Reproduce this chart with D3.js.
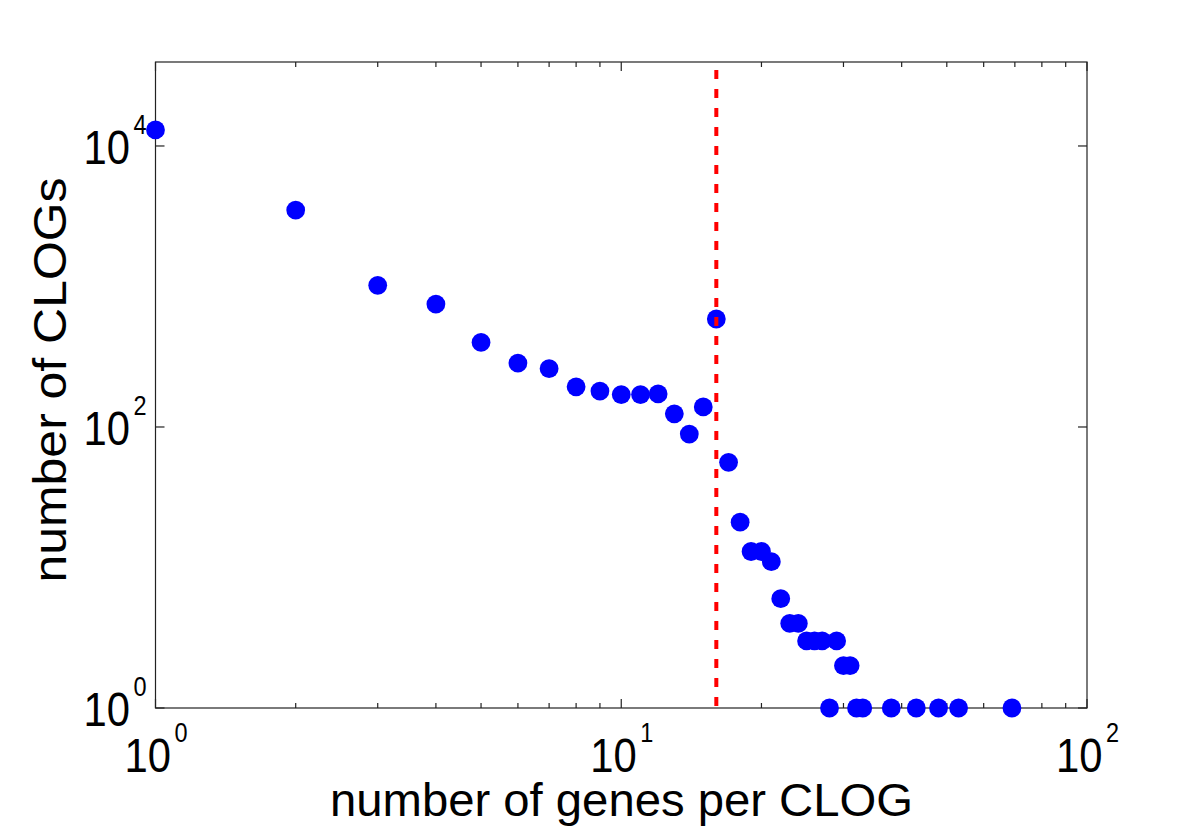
<!DOCTYPE html>
<html>
<head>
<meta charset="utf-8">
<script src="https://cdn.jsdelivr.net/npm/d3@7"></script>
<style>
  html, body { margin: 0; padding: 0; background: #fff; }
  svg { display: block; }
  text { font-family: "Liberation Sans", Arial, Helvetica, sans-serif; fill: #000; }
</style>
</head>
<body>
<svg id="chart" width="1200" height="827"></svg>
<script>
// ---- data ----
const genesPerClog = [1, 2, 3, 4, 5, 6, 7, 8, 9, 10, 11, 12, 13, 14, 15, 16, 17, 18, 19, 20,
                      21, 22, 23, 24, 25, 26, 27, 28, 29, 30, 31, 32, 33, 38, 43, 48, 53, 69];
const clogCount    = [13000, 3500, 1020, 750, 400, 285, 260, 193, 180, 170, 170, 172, 124, 89, 139, 587, 56, 21, 13, 13,
                      11, 6, 4, 4, 3, 3, 3, 1, 3, 2, 2, 1, 1, 1, 1, 1, 1, 1];
const cutoffGenes = 16;
const xDomain = [1, 100];
const yDomain = [1, 39600];
const xMajorTicks = [1, 10, 100];
const xTickExponents = ["0", "1", "2"];
const xMinorTicks = [2, 3, 4, 5, 6, 7, 8, 9, 20, 30, 40, 50, 60, 70, 80, 90];
const yMajorTicks = [1, 100, 10000];
const yTickExponents = ["0", "2", "4"];
const xLabel = "number of genes per CLOG";
const yLabel = "number of CLOGs";

// ---- layout ----
const L = 155.5, R = 1087, T = 62, B = 708;
const svg = d3.select("#chart");
const x = d3.scaleLog().domain(xDomain).range([L, R]);
const y = d3.scaleLog().domain(yDomain).range([B, T]);

const axisColor = "#222";

// frame
svg.append("rect").attr("x", L).attr("y", T).attr("width", R - L).attr("height", B - T)
  .attr("fill", "none").attr("stroke", axisColor).attr("stroke-width", 1.2);

// ticks
const tickG = svg.append("g").attr("stroke", axisColor).attr("stroke-width", 1.2);
xMajorTicks.forEach(v => {
  tickG.append("line").attr("x1", x(v)).attr("x2", x(v)).attr("y1", B).attr("y2", B - 9);
  tickG.append("line").attr("x1", x(v)).attr("x2", x(v)).attr("y1", T).attr("y2", T + 9);
});
xMinorTicks.forEach(v => {
  tickG.append("line").attr("x1", x(v)).attr("x2", x(v)).attr("y1", B).attr("y2", B - 5);
  tickG.append("line").attr("x1", x(v)).attr("x2", x(v)).attr("y1", T).attr("y2", T + 5);
});
yMajorTicks.forEach(v => {
  tickG.append("line").attr("x1", L).attr("x2", L + 9).attr("y1", y(v)).attr("y2", y(v));
  tickG.append("line").attr("x1", R).attr("x2", R - 9).attr("y1", y(v)).attr("y2", y(v));
});

// tick labels: one text per label, base "10" + superscript exponent
function powLabel(g, x0, yBase, exp) {
  const t = g.append("text")
    .attr("transform", `translate(${x0},${yBase}) scale(0.87,1)`)
    .attr("text-anchor", "start");
  t.append("tspan").attr("font-size", 48).text("10");
  t.append("tspan").attr("font-size", 27).attr("dx", 4).attr("dy", -30).text(exp);
}
const labG = svg.append("g");
xMajorTicks.forEach((v, i) => powLabel(labG, x(v) - 31, 772, xTickExponents[i]));
yMajorTicks.forEach((v, i) => powLabel(labG, L - 72, y(v) + 18, yTickExponents[i]));

// axis labels
svg.append("text").attr("x", (330 + 913) / 2).attr("y", 816).attr("text-anchor", "middle")
  .attr("font-size", 46).attr("textLength", 583).attr("lengthAdjust", "spacingAndGlyphs").text(xLabel);
svg.append("text").attr("transform", "translate(66,380) rotate(-90)").attr("text-anchor", "middle")
  .attr("font-size", 46).attr("textLength", 405).attr("lengthAdjust", "spacingAndGlyphs").text(yLabel);

// points
svg.append("g").selectAll("circle").data(genesPerClog).join("circle")
  .attr("cx", d => x(d))
  .attr("cy", (d, i) => y(clogCount[i]))
  .attr("r", 9.4)
  .attr("fill", "#0000ff");

// cutoff line
svg.append("line")
  .attr("x1", x(cutoffGenes)).attr("x2", x(cutoffGenes))
  .attr("y1", T).attr("y2", B)
  .attr("stroke", "#ff0000").attr("stroke-width", 4)
  .attr("stroke-dasharray", "9,10").attr("stroke-dashoffset", 11);
</script>
</body>
</html>
